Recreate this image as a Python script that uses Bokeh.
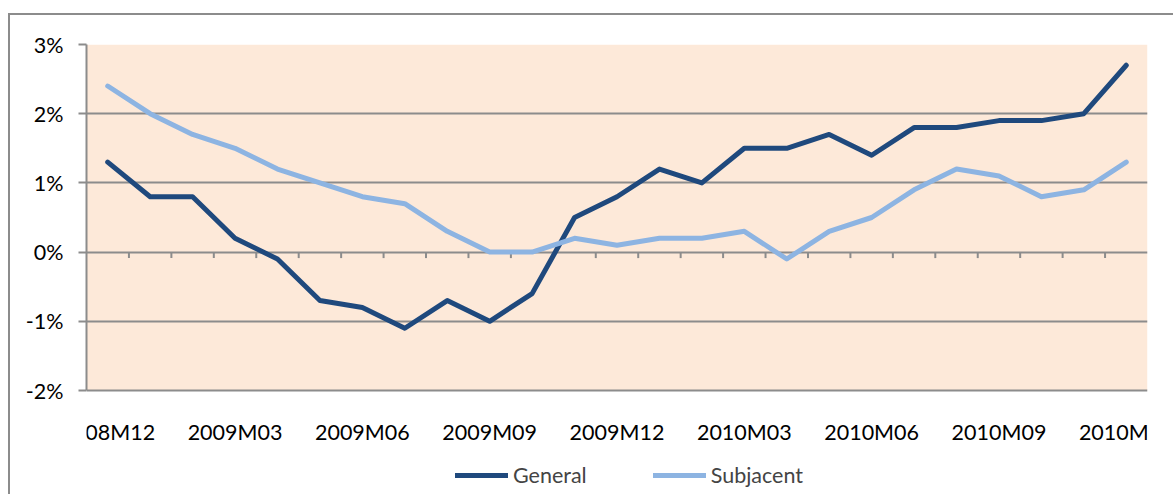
from bokeh.plotting import figure
from bokeh.models import (FixedTicker, PrintfTickFormatter, Legend, LegendItem,
                          ColumnDataSource, Range1d, BoxAnnotation, LabelSet)
from bokeh.core.properties import value
from bokeh.embed import file_html
from bokeh.resources import INLINE

months = ["2008M12", "2009M01", "2009M02", "2009M03", "2009M04", "2009M05", "2009M06",
          "2009M07", "2009M08", "2009M09", "2009M10", "2009M11", "2009M12",
          "2010M01", "2010M02", "2010M03", "2010M04", "2010M05", "2010M06",
          "2010M07", "2010M08", "2010M09", "2010M10", "2010M11", "2010M12"]
general = [1.3, 0.8, 0.8, 0.2, -0.1, -0.7, -0.8, -1.1, -0.7, -1.0, -0.6, 0.5, 0.8,
           1.2, 1.0, 1.5, 1.5, 1.7, 1.4, 1.8, 1.8, 1.9, 1.9, 2.0, 2.7]
subjacent = [2.4, 2.0, 1.7, 1.5, 1.2, 1.0, 0.8, 0.7, 0.3, 0.0, 0.0, 0.2, 0.1,
             0.2, 0.2, 0.3, -0.1, 0.3, 0.5, 0.9, 1.2, 1.1, 0.8, 0.9, 1.3]
y_ticks = [-2, -1, 0, 1, 2, 3]

FONT = "Lato"
FS = "21.5px"
GRID = "#8c8c8c"
BG = "#FDE9D9"

PLOT_H = 346          # pixel height of the shaded -2%..3% area
FRAME_H = 450         # frame also holds the category labels and legend
PX_PER_UNIT = PLOT_H / (y_ticks[-1] - y_ticks[0])
y_start = y_ticks[-1] - FRAME_H / PX_PER_UNIT

idx = list(range(len(months)))
src = ColumnDataSource(dict(x=idx, general=general, subjacent=subjacent))

p = figure(output_backend="svg", toolbar_location=None, x_axis_location=None,
           x_range=Range1d(-0.5, len(months) - 0.5), y_range=Range1d(y_start, y_ticks[-1]),
           min_border_left=76, min_border_top=29, min_border_right=40, min_border_bottom=0)
p.frame_width = 1061
p.frame_height = FRAME_H
p.styles = {"margin-left": "8px", "margin-top": "13px",
            "border-left": "2px solid #8c8c8c", "border-top": "2px solid #8c8c8c"}
p.background_fill_color = "white"
p.border_fill_color = "white"
p.outline_line_color = None

# shaded plot area
p.add_layout(BoxAnnotation(bottom=y_ticks[0], top=y_ticks[-1], fill_color=BG, fill_alpha=1,
                           line_color=None, level="image"))

# y axis
p.yaxis.ticker = FixedTicker(ticks=y_ticks)
p.yaxis.bounds = (y_ticks[0], y_ticks[-1])
p.yaxis.formatter = PrintfTickFormatter(format="%d%%")
p.yaxis.axis_line_color = GRID
p.yaxis.axis_line_width = 2
p.yaxis.major_tick_line_color = GRID
p.yaxis.major_tick_line_width = 2
p.yaxis.major_tick_out = 8
p.yaxis.major_tick_in = 0
p.yaxis.minor_tick_line_color = None
p.yaxis.major_label_text_font = FONT
p.yaxis.major_label_text_font_size = FS
p.yaxis.major_label_text_color = "black"
p.yaxis.major_label_standoff = 15
p.ygrid.ticker = FixedTicker(ticks=y_ticks)
p.ygrid.grid_line_color = GRID
p.ygrid.grid_line_width = 2
p.xgrid.grid_line_color = None

# category labels (every third month) below the shaded area, as unclipped annotations
label_idx = idx[::3]
label_y = y_ticks[0] - 41 / PX_PER_UNIT
lab_src = ColumnDataSource(dict(x=label_idx, y=[label_y] * len(label_idx),
                                text=[months[i] for i in label_idx]))
labels = LabelSet(x="x", y="y", text="text", source=lab_src,
                  text_font_size=FS, text_color="black",
                  text_align="center", text_baseline="middle")
try:
    labels.text_font = value(FONT)
except Exception:
    labels.text_font = FONT
p.add_layout(labels)

# tick marks on the zero line at category boundaries
bounds = [i + 0.5 for i in idx[:-1]]
p.segment(x0=bounds, x1=bounds, y0=[0] * len(bounds), y1=[-6 / PX_PER_UNIT] * len(bounds),
          line_color=GRID, line_width=2)

r1 = p.line("x", "general", source=src, line_color="#1F497D", line_width=5,
            line_join="round", line_cap="round")
r2 = p.line("x", "subjacent", source=src, line_color="#8DB4E2", line_width=5,
            line_join="round", line_cap="round")

legend = Legend(items=[LegendItem(label="General", renderers=[r1]),
                       LegendItem(label="Subjacent", renderers=[r2])],
                orientation="horizontal", location=(369, 6),
                label_text_font=FONT, label_text_font_size=FS,
                glyph_width=53, glyph_height=20, label_height=20, spacing=66, label_standoff=5,
                border_line_color=None, background_fill_alpha=0, padding=0, margin=0)
p.add_layout(legend, "center")

open("out.html", "w").write(file_html(p, INLINE))
